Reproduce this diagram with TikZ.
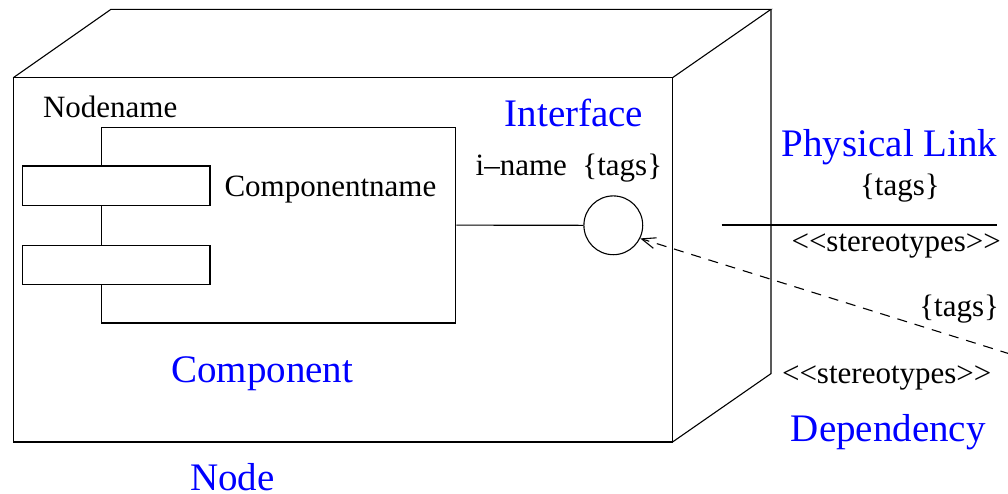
\documentclass[tikz,border=0pt]{standalone}
\usepackage{fontspec}
\setmainfont{Liberation Serif}
\usetikzlibrary{arrows.meta}
\definecolor{umlblue}{RGB}{0,0,255}
\begin{document}
\begin{tikzpicture}[x=1pt,y=-1pt,
  outline/.style={line width=1.1pt, draw=black},
  box/.style={outline, rectangle, inner sep=0pt},
  lbl/.style={anchor=base, inner sep=0pt, font=\fontsize{31}{37}\selectfont},
  title/.style={anchor=base, inner sep=0pt, text=umlblue, font=\fontsize{39}{46}\selectfont},
  dep/.style={line width=1.1pt, dash pattern=on 10pt off 8pt,
              -{Straight Barb[length=14pt,width=11pt]}}]
\useasboundingbox (0,0) rectangle (1008,493);

% deployment node drawn as a box in perspective
\coordinate (ftl) at (13.3,77.7);
\coordinate (ftr) at (672.5,77.7);
\coordinate (fbr) at (672.5,442);
\coordinate (fbl) at (13.3,442);
\coordinate (btl) at (111,9.3);
\coordinate (btr) at (771,9.3);
\coordinate (bbr) at (771,373.6);
\draw[outline] (ftl) rectangle (fbr);
\draw[outline] (ftl) -- (btl) -- (btr) -- (ftr);
\draw[outline] (btr) -- (bbr) -- (fbr);

% component with its two port rectangles
\node[box, minimum width=354pt, minimum height=195.7pt] (comp) at (278.7,225.15) {};
\node[box, fill=white, minimum width=187.3pt, minimum height=39.7pt] (port1) at (116.35,185.85) {};
\node[box, fill=white, minimum width=187.3pt, minimum height=39.7pt] (port2) at (116.35,265) {};

% interface (lollipop)
\node[circle, outline, minimum size=58.8pt, inner sep=0pt] (iface) at (613.3,225.3) {};
\draw[outline] (comp.east) -- (iface.west);

% physical link
\coordinate (linkA) at (721.7,225);
\coordinate (linkB) at (997.3,225);
\draw[outline] (linkA) -- (linkB);

% dependency
\coordinate (depend) at (1010,354);
\draw[dep] (depend) -- (iface.-26);

% labels
\node[lbl] (nodename) at (110.2,117.3) {Nodename};
\node[lbl] (compname) at (330.4,196) {Componentname};
\node[lbl] (iname) at (568.9,175.7) {i--name\ \ \{tags\}};
\node[lbl] (linktags) at (899.9,195) {\{tags\}};
\node[lbl] (linkster) at (896.2,251.7) {<{}<stereotypes>{}>};
\node[lbl] (deptags) at (959.2,316.7) {\{tags\}};
\node[lbl] (depster) at (886.7,383) {<{}<stereotypes>{}>};

\node[title] (tiface) at (574,126.7) {Interface};
\node[title] (tlink) at (889.5,156) {Physical Link};
\node[title] (tcomp) at (262.3,382.7) {Component};
\node[title] (tdep) at (888.3,441.7) {Dependency};
\node[title] (tnode) at (232.3,490) {Node};
\end{tikzpicture}
\end{document}
